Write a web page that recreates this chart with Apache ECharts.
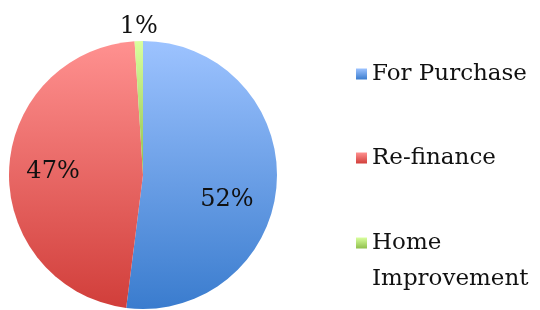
<!DOCTYPE html>
<html>
<head>
<meta charset="utf-8">
<script src="https://cdn.jsdelivr.net/npm/echarts@6/dist/echarts.min.js"></script>
<style>
  html, body { margin: 0; padding: 0; background: #fff; }
  #main { width: 540px; height: 310px; }
</style>
</head>
<body>
<div id="main"></div>
<script>
// 贷款用途占比
var categories = ['For Purchase', 'Re-finance', 'Home Improvement'];
var values = [52, 47, 1];

// 渐变色 (上浅下深)
var colorTop = ['#9dc3ff', '#ff9190', '#d9ff9e'];
var colorBottom = ['#3a7cce', '#d13e3a', '#8fbf4c'];
// 标签微调 (相对默认位置)
var labelShift = [[14, 20], [-20, -1], [-2, -78]];

var font = '"DejaVu Serif", serif';

function grad(i) {
  return new echarts.graphic.LinearGradient(0, 0, 0, 1, [
    { offset: 0, color: colorTop[i] },
    { offset: 1, color: colorBottom[i] }
  ]);
}

var pieData = categories.map(function (name, i) {
  return {
    name: name,
    value: values[i],
    itemStyle: { color: grad(i) }
  };
});

// 图例
var legendTops = [56, 140, 189];
var legends = categories.map(function (name, i) {
  return {
    data: [name],
    orient: 'vertical',
    left: 356,
    top: legendTops[i],
    padding: 0,
    itemWidth: 11,
    itemHeight: 11,
    icon: 'rect',
    selectedMode: false,
    formatter: function (n) {
      return n === 'Home Improvement' ? '\nHome\nImprovement' : n;
    },
    textStyle: {
      fontFamily: font,
      fontSize: 23,
      lineHeight: 36,
      color: '#111'
    }
  };
});

var chart = echarts.init(document.getElementById('main'), null, { renderer: 'canvas' });
chart.setOption({
  backgroundColor: '#fff',
  animation: false,
  legend: legends,
  series: [{
    type: 'pie',
    center: [143, 175],
    radius: [0, 134],
    startAngle: 90,
    clockwise: true,
    avoidLabelOverlap: false,
    label: {
      show: true,
      position: 'inside',
      formatter: '{d}%',
      fontFamily: font,
      fontSize: 24,
      color: '#111'
    },
    labelLayout: function (params) {
      var s = labelShift[params.dataIndex];
      return { dx: s[0], dy: s[1] };
    },
    labelLine: { show: false },
    emphasis: { disabled: true },
    data: pieData
  }]
});
</script>
</body>
</html>
